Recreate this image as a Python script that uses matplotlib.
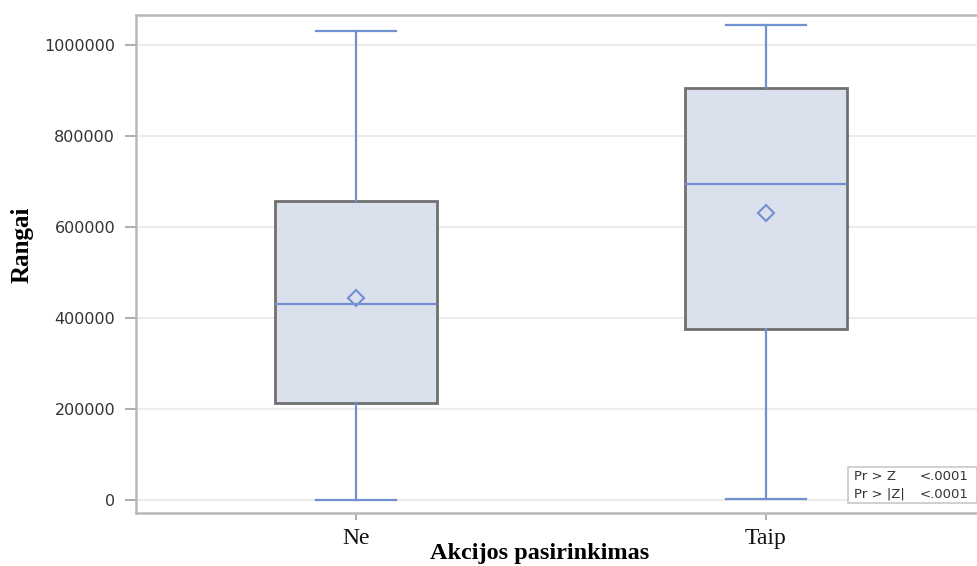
import matplotlib
matplotlib.use("Agg")
import matplotlib.pyplot as plt
from matplotlib.patches import Rectangle

categories = ["Ne", "Taip"]
whislo = [0, 2000]
q1 = [213000, 376000]
med = [431000, 695000]
q3 = [657000, 905000]
whishi = [1031000, 1044000]
means = [444000, 631000]
yticks = [0, 200000, 400000, 600000, 800000, 1000000]
stat_rows = [("Pr > Z", "<.0001"), ("Pr > |Z|", "<.0001")]

W, H = 977, 566
fig = plt.figure(figsize=(W / 100, H / 100), dpi=100)
ax = fig.add_axes([136 / W, (H - 513) / H, (986 - 136) / W, (513 - 15) / H])

stats = []
for i in range(len(categories)):
    stats.append(dict(label=categories[i], whislo=whislo[i], q1=q1[i], med=med[i],
                      q3=q3[i], whishi=whishi[i], mean=means[i], fliers=[]))

blue = "#7090d0"
ax.bxp(stats, positions=range(len(categories)), widths=0.395, patch_artist=True,
       showmeans=True, meanline=False,
       boxprops=dict(facecolor="#dae1ec", edgecolor="#707070", linewidth=2.0),
       whiskerprops=dict(color=blue, linewidth=1.6),
       capprops=dict(color=blue, linewidth=1.6),
       medianprops=dict(color=blue, linewidth=1.6),
       meanprops=dict(marker="D", markerfacecolor="none", markeredgecolor=blue,
                      markeredgewidth=1.5, markersize=8),
       capwidths=0.195)

ax.set_xlim(-0.537, 1.537)
ax.set_ylim(-28571, 1065934)
ax.set_yticks(yticks)
ax.set_yticklabels([str(v) for v in yticks], fontsize=11.5, color="#333333",
                   family="DejaVu Sans")
ax.set_xticks(range(len(categories)))
ax.set_xticklabels(categories, fontsize=17, family="Liberation Serif", color="#111111")
ax.tick_params(axis="y", length=8, color="#a0a0a0", width=1.2, pad=7)
ax.tick_params(axis="x", length=5, color="#a0a0a0", width=1.2, pad=6)
ax.yaxis.grid(True, color="#ececec", linewidth=1.5)
ax.set_axisbelow(True)
for s in ["left", "top", "bottom"]:
    ax.spines[s].set_color("#b8b8b8")
    ax.spines[s].set_linewidth(1.8)
ax.spines["right"].set_visible(False)

ax.set_ylabel("Rangai", fontsize=18, family="Liberation Serif", fontweight="bold")
ax.yaxis.set_label_coords((22 - 136) / 850, (513 - 245) / 498)
ax.yaxis.label.set_va("center")
ax.set_xlabel("Akcijos pasirinkimas", fontsize=17.5, family="Liberation Serif",
              fontweight="bold")
ax.xaxis.set_label_coords((540 - 136) / 850, -(553 - 513) / 498)
ax.xaxis.label.set_va("center")

# inset stats box
fig.patches.append(Rectangle((848 / W, (H - 503) / H), (977 - 848) / W, (503 - 467) / H,
                             transform=fig.transFigure, facecolor="white",
                             edgecolor="#c8c8c8", linewidth=1.2, zorder=5))
for j, (lab, val) in enumerate(stat_rows):
    yy = (H - (476 + j * 18)) / H
    fig.text(854 / W, yy, lab, fontsize=9.5, family="DejaVu Sans", color="#333333",
             va="center", ha="left", zorder=6)
    fig.text(920 / W, yy, val, fontsize=9.5, family="DejaVu Sans", color="#333333",
             va="center", ha="left", zorder=6)

fig.savefig("out.png", dpi=100)
